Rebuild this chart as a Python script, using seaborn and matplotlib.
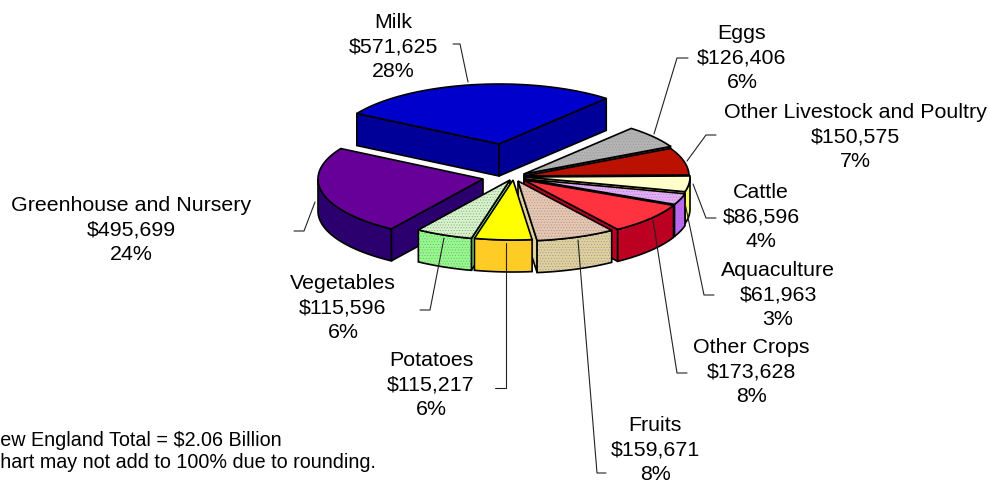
import numpy as np
import matplotlib
matplotlib.use('Agg')
import matplotlib.pyplot as plt
from matplotlib.patches import Polygon
import seaborn as sns

sns.set_style('white')
plt.rcParams['font.family'] = ['Liberation Sans', 'DejaVu Sans']
plt.rcParams['hatch.linewidth'] = 0.4

# valeurs dans l'ordre du camembert, en partant de Milk (sens horaire)
names = ['Milk', 'Eggs', 'Other Livestock and Poultry', 'Cattle', 'Aquaculture',
         'Other Crops', 'Fruits', 'Potatoes', 'Vegetables', 'Greenhouse and Nursery']
values = [571625, 126406, 150575, 86596, 61963, 173628, 159671, 115217, 115596, 495699]

top_colors = ['#0000cc', '#b4b4b4', '#bb1100', '#ffffcc', '#e6aaff',
              '#ff3340', '#e8c6b0', '#ffff00', '#d4f5c8', '#660099']
side_colors = ['#000099', '#555555', '#770000', '#ffff66', '#c060ff',
               '#bb0022', '#e0d09c', '#ffcc26', '#90ff88', '#2b006e']
dotted = ['Eggs', 'Aquaculture', 'Fruits', 'Vegetables']

# sommet de chaque part (pixels), parts eclatees
apex_x = [499, 524, 524, 525, 525, 524, 518, 513, 510, 483]
apex_y = [144, 174, 176, 177, 179, 180, 181, 180, 180, 179]
# ordre de dessin, du fond vers l'avant
draw_order = [0, 1, 2, 3, 4, 5, 9, 8, 6, 7]

# position du centre du texte des labels
label_x = [393, 742, 855, 761, 778, 751, 655, 431, 343, 131]
label_y = [47, 58, 137, 217, 295, 372, 450, 385, 308, 230]

leaders = [
    [(468, 82), (460, 44), (453, 44)],
    [(654, 134), (677, 58), (688, 58)],
    [(687, 161), (706, 135), (716, 135)],
    [(693, 184), (706, 218), (716, 218)],
    [(685, 203), (704, 295), (714, 295)],
    [(653, 220), (677, 373), (687, 373)],
    [(578, 240), (597, 473), (606, 473)],
    [(506, 243), (506, 388), (495, 388)],
    [(444, 238), (430, 310), (420, 310)],
    [(315, 202), (304, 231), (294, 231)],
]

rx, ry = 165, 60
thick = 32
start_angle = -59.5

fig = plt.figure(figsize=(9.88, 4.82), dpi=100)
ax = fig.add_axes([0, 0, 1, 1])
ax.set_xlim(0, 988)
ax.set_ylim(482, 0)
ax.axis('off')


def point(cx, cy, t):
    r = np.radians(t)
    return cx + rx * np.sin(r), cy - ry * np.cos(r)


def arc(cx, cy, t1, t2):
    ts = np.linspace(t1, t2, 60)
    return [point(cx, cy, t) for t in ts]


def fill(pts, color, z, hatch=False):
    if hatch:
        ax.add_patch(Polygon(pts, closed=True, facecolor=color, edgecolor='#999999',
                             hatch='......', lw=0, zorder=z))
        ax.add_patch(Polygon(pts, closed=True, fill=False, edgecolor='black', lw=1.2, zorder=z))
    else:
        ax.add_patch(Polygon(pts, closed=True, facecolor=color, edgecolor='black', lw=1.2, zorder=z))


total = sum(values)
angles = start_angle + 360 * np.cumsum([0] + values) / total

z = 1
for i in draw_order:
    t1, t2 = angles[i], angles[i + 1]
    cx, cy = apex_x[i], apex_y[i]
    hatch = names[i] in dotted
    # parois radiales qui font face a l'observateur
    for t, normal in [(t1, t1 - 90), (t2, t2 + 90)]:
        if np.cos(np.radians(normal)) < 0:
            px, py = point(cx, cy, t)
            fill([(cx, cy), (px, py), (px, py + thick), (cx, cy + thick)], side_colors[i], z)
            z += 1
    # bord exterieur visible
    a, b = max(t1, 90), min(t2, 270)
    if a < b:
        upper = arc(cx, cy, a, b)
        lower = [(x, y + thick) for x, y in upper]
        fill(upper + lower[::-1], side_colors[i], z, hatch)
        z += 1
    # dessus
    fill([(cx, cy)] + arc(cx, cy, t1, t2), top_colors[i], z, hatch)
    z += 1

for pts in leaders:
    xs, ys = zip(*pts)
    ax.plot(xs, ys, color='#222222', lw=0.8, zorder=z)

for i, name in enumerate(names):
    pct = round(100 * values[i] / total)
    ax.text(label_x[i], label_y[i], f'{name}\n${values[i]:,}\n{pct}%', ha='center', va='center',
            fontsize=15.4, color='black', linespacing=1.36, zorder=z + 1)

ax.text(-14, 440, 'New England Total = $2.06 Billion', fontsize=14.2, va='center', color='black')
ax.text(-14, 462, 'Chart may not add to 100% due to rounding.', fontsize=14.2, va='center', color='black')

fig.savefig('out.png', dpi=100)
